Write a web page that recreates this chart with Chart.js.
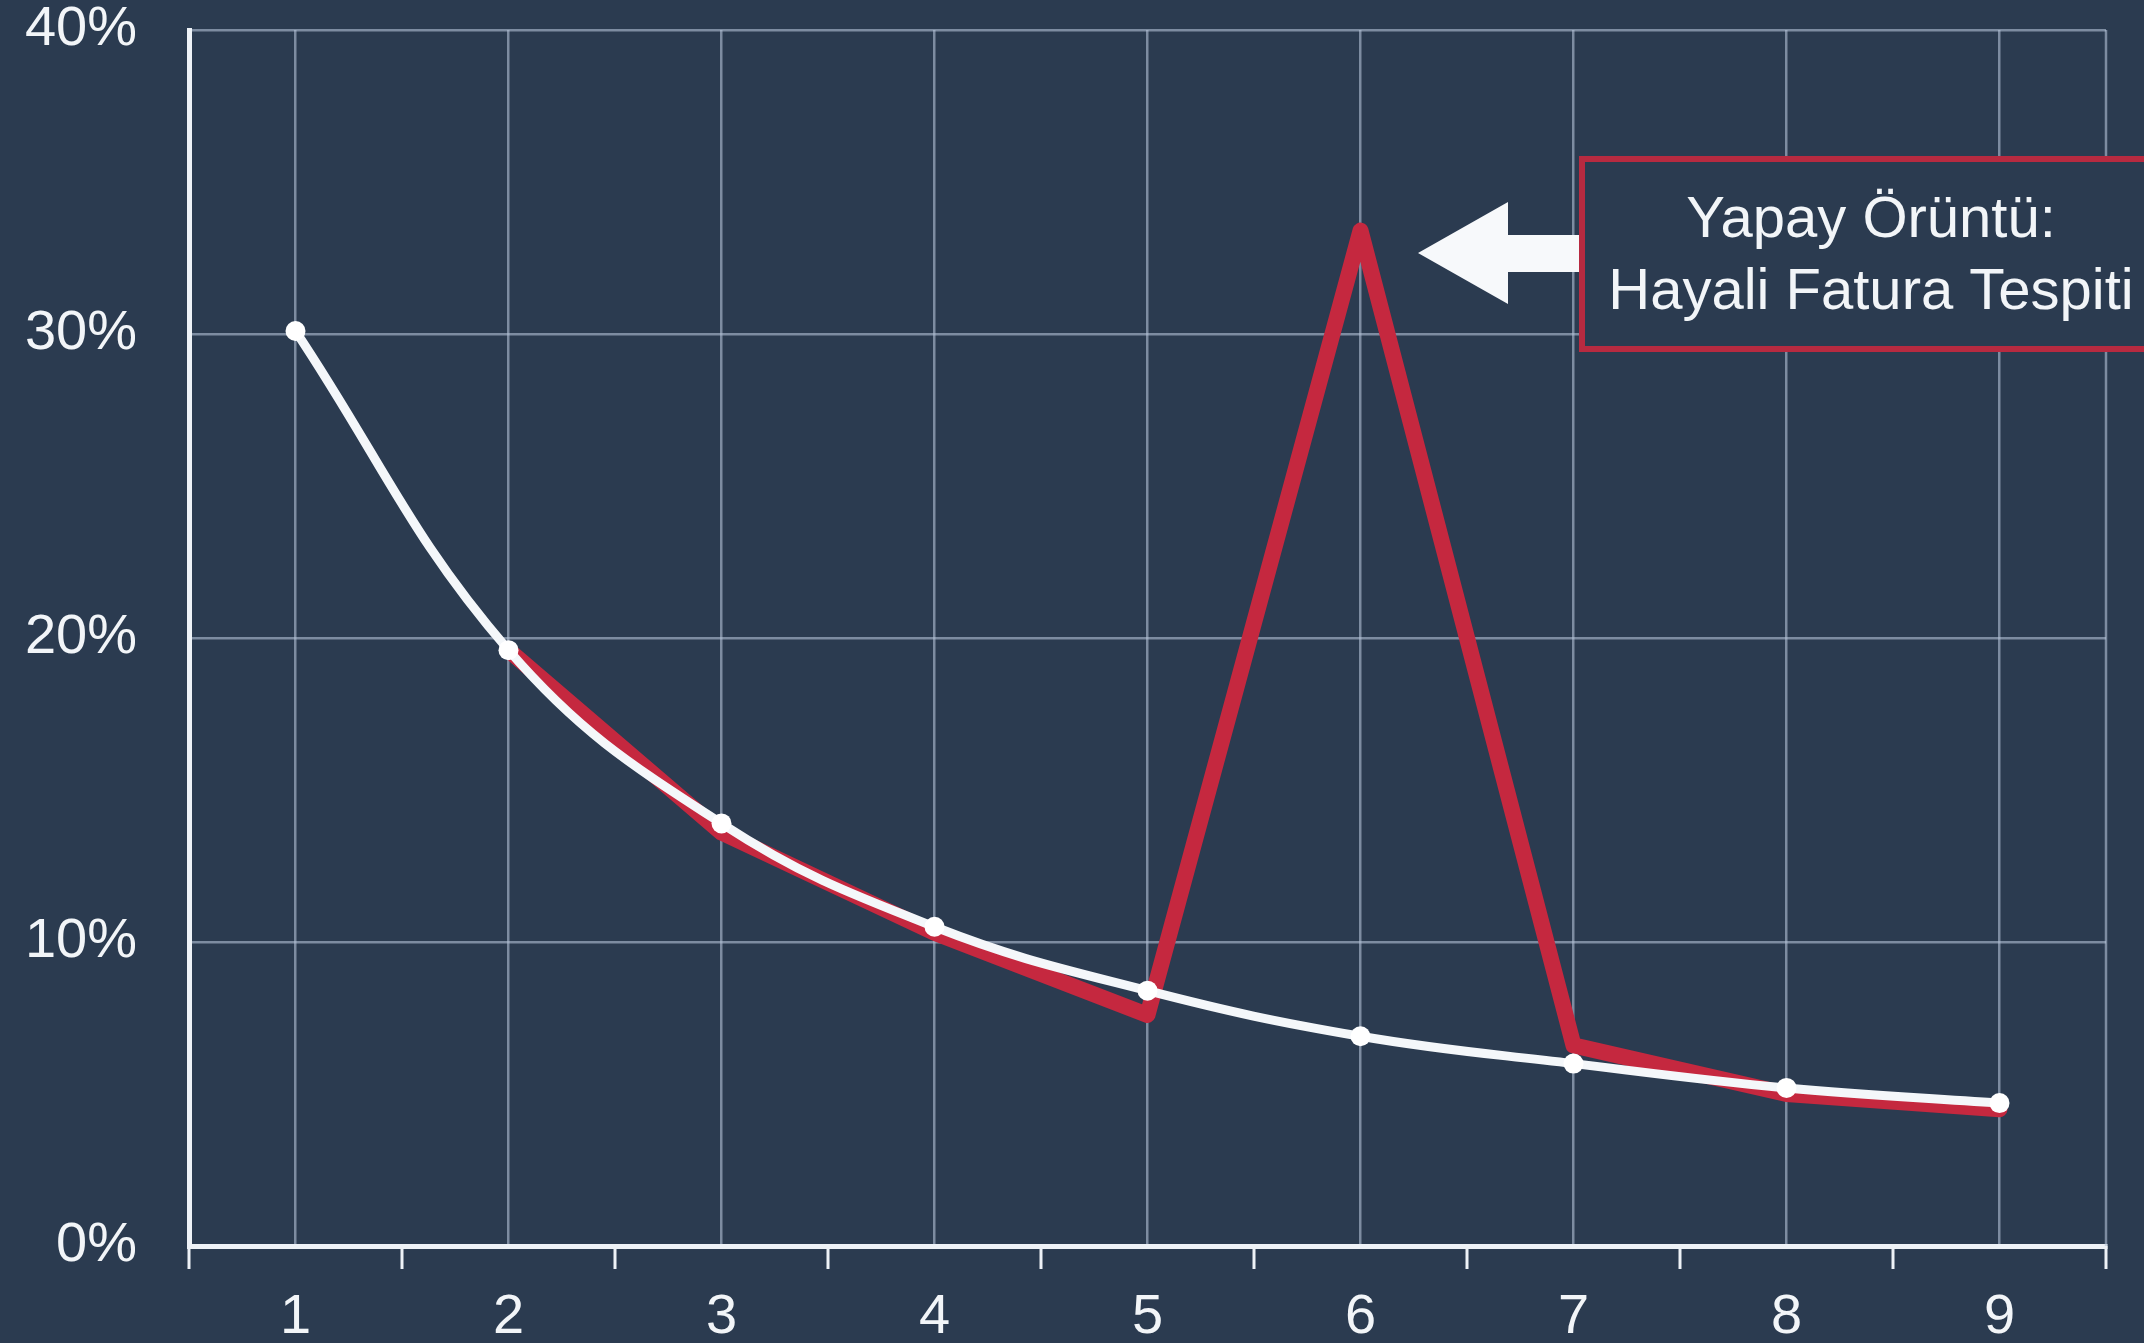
<!DOCTYPE html>
<html>
<head>
<meta charset="utf-8">
<script src="https://cdn.jsdelivr.net/npm/chart.js@4/dist/chart.umd.min.js"></script>
<style>
  html, body { margin: 0; padding: 0; background: #2b3b50; }
  #wrap { width: 2144px; height: 1343px; }
</style>
</head>
<body>
<div id="wrap"><canvas id="c" width="2144" height="1343"></canvas></div>
<script>
const categories = ['1', '2', '3', '4', '5', '6', '7', '8', '9'];
const expectedShare = [30.1, 19.6, 13.9, 10.5, 8.4, 6.9, 6.0, 5.2, 4.7];
const observedShare = [null, 19.6, 13.6, 10.3, 7.6, 33.4, 6.6, 5.0, 4.5];
const yTickValues = [0, 10, 20, 30, 40];
const annotationLines = ['Yapay Örüntü:', 'Hayali Fatura Tespiti'];

const BG = '#2b3b50';
const GRID = 'rgba(180,195,215,0.6)';
const AXIS = '#eef2f7';
const RED = '#c5283f';
const FONT = '"Liberation Sans", Arial, sans-serif';

const decor = {
  id: 'decor',
  beforeDraw(chart) {
    const ctx = chart.ctx;
    ctx.save();
    ctx.fillStyle = BG;
    ctx.fillRect(0, 0, chart.width, chart.height);
    ctx.restore();
  },
  beforeDatasetsDraw(chart) {
    const ctx = chart.ctx, a = chart.chartArea;
    ctx.save();
    ctx.strokeStyle = GRID;
    ctx.lineWidth = 2.5;
    ctx.beginPath();
    ctx.moveTo(a.right, a.top);
    ctx.lineTo(a.right, a.bottom);
    ctx.stroke();
    ctx.restore();
  },
  afterDatasetsDraw(chart) {
    const ctx = chart.ctx, a = chart.chartArea, xs = chart.scales.x;
    ctx.save();
    const step = xs.getPixelForValue(1) - xs.getPixelForValue(0);
    ctx.strokeStyle = AXIS;
    ctx.lineWidth = 3;
    for (let i = 0; i <= categories.length; i++) {
      const x = xs.getPixelForValue(0) - step / 2 + i * step;
      ctx.beginPath();
      ctx.moveTo(x, a.bottom);
      ctx.lineTo(x, a.bottom + 23);
      ctx.stroke();
    }
    const bx = 1582, by = 159, bw = 600, bh = 190;
    ctx.fillStyle = BG;
    ctx.fillRect(bx, by, bw, bh);
    ctx.strokeStyle = '#b72a40';
    ctx.lineWidth = 6;
    ctx.strokeRect(bx, by, bw, bh);
    ctx.fillStyle = '#f7f9fb';
    ctx.beginPath();
    ctx.moveTo(1418, 253);
    ctx.lineTo(1508, 202);
    ctx.lineTo(1508, 235);
    ctx.lineTo(bx - 3, 235);
    ctx.lineTo(bx - 3, 272);
    ctx.lineTo(1508, 272);
    ctx.lineTo(1508, 304);
    ctx.closePath();
    ctx.fill();
    ctx.fillStyle = '#f2f5f8';
    ctx.font = '58px ' + FONT;
    ctx.textAlign = 'center';
    ctx.textBaseline = 'middle';
    ctx.fillText(annotationLines[0], 1871, 221);
    ctx.fillText(annotationLines[1], 1871, 293);
    ctx.restore();
  }
};

new Chart(document.getElementById('c'), {
  type: 'line',
  data: {
    labels: categories,
    datasets: [
      {
        label: 'Beklenen',
        data: expectedShare,
        borderColor: '#f4f7fa',
        backgroundColor: '#ffffff',
        borderWidth: 9,
        pointRadius: 10,
        pointBorderWidth: 0,
        pointBackgroundColor: '#ffffff',
        tension: 0.4,
        order: 0
      },
      {
        label: 'Gözlenen',
        data: observedShare,
        borderColor: RED,
        backgroundColor: RED,
        borderWidth: 16,
        pointRadius: 0,
        tension: 0,
        borderJoinStyle: 'round',
        borderCapStyle: 'round',
        spanGaps: false,
        order: 1
      }
    ]
  },
  plugins: [decor],
  options: {
    responsive: false,
    animation: false,
    devicePixelRatio: 1,
    layout: { padding: { top: 30, right: 38, left: 0, bottom: 0 } },
    plugins: { legend: { display: false }, tooltip: { enabled: false } },
    scales: {
      x: {
        type: 'category',
        offset: true,
        grid: { offset: false, color: GRID, lineWidth: 2.5, drawTicks: false },
        border: { color: AXIS, width: 5 },
        ticks: { color: '#f2f5f8', font: { size: 56, family: FONT }, padding: 38, maxRotation: 0 },
        afterFit(s) { s.height = 97; s.paddingLeft = 0; s.paddingRight = 0; }
      },
      y: {
        min: 0,
        max: 40,
        afterBuildTicks(s) { s.ticks = yTickValues.map(v => ({ value: v })); },
        grid: { color: GRID, lineWidth: 2.5, drawTicks: false },
        border: { color: AXIS, width: 5 },
        ticks: { color: '#f2f5f8', font: { size: 56, family: FONT }, padding: 52, callback: v => v + '%' },
        afterFit(s) { s.width = 189; s.paddingTop = 0; s.paddingBottom = 0; }
      }
    }
  }
});
</script>
</body>
</html>
